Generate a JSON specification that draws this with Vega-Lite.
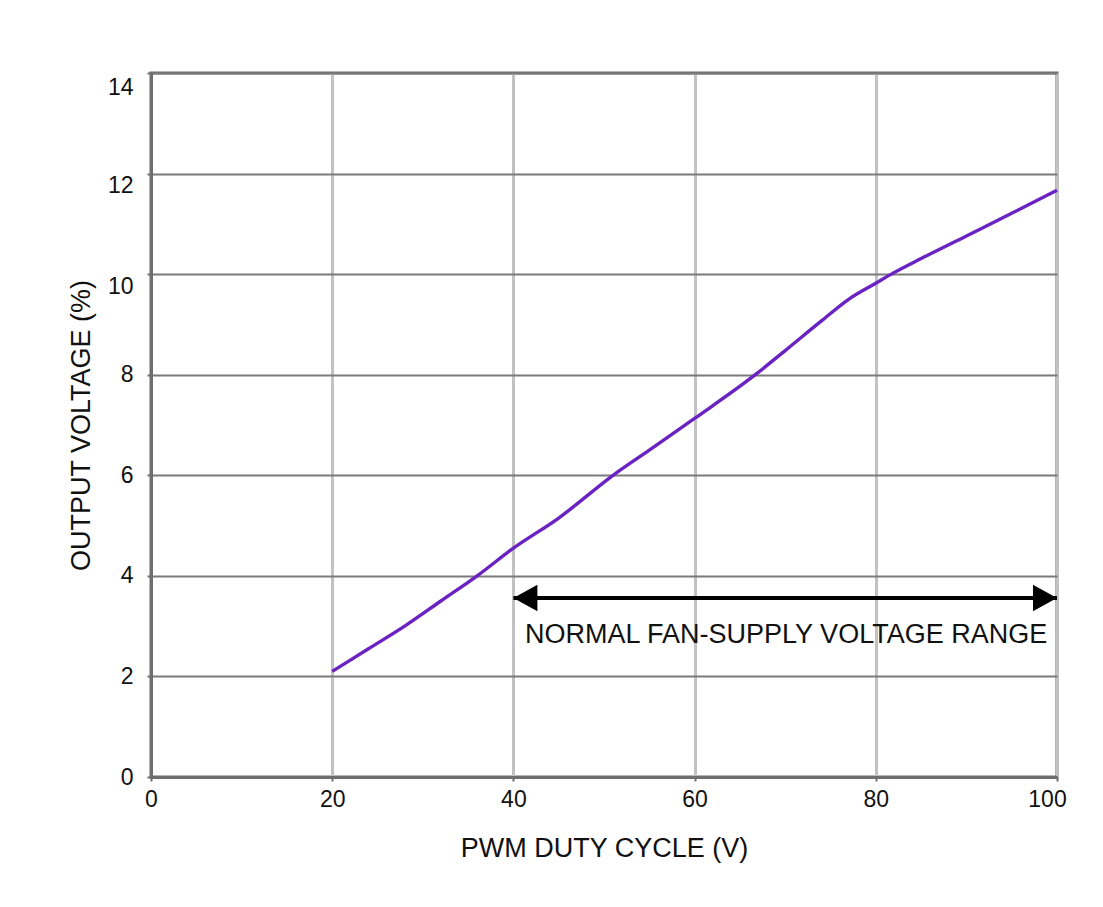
{
  "$schema": "https://vega.github.io/schema/vega-lite/v6.json",
  "width": 906,
  "height": 704,
  "autosize": {"type": "none"},
  "padding": {"left": 151, "top": 73, "right": 46, "bottom": 130},
  "background": "white",
  "config": {
    "font": "Liberation Sans",
    "view": {"stroke": "#6e6e6e", "strokeWidth": 3},
    "axis": {
      "labelFont": "Liberation Sans",
      "titleFont": "Liberation Sans",
      "labelFontSize": 23,
      "titleFontSize": 27,
      "titleFontWeight": "normal",
      "labelColor": "#111111",
      "titleColor": "#111111",
      "domainColor": "#6e6e6e",
      "domainWidth": 3,
      "tickColor": "#6e6e6e",
      "tickSize": 4,
      "tickWidth": 2,
      "labelFlush": false
    },
    "axisX": {"gridColor": "#c2c2c2", "gridWidth": 3, "gridOpacity": 1, "labelPadding": 7, "titlePadding": 24},
    "axisY": {"gridColor": "#7a7a7a", "gridWidth": 2, "gridOpacity": 1, "labelPadding": 14, "titlePadding": 12}
  },
  "datasets": {
    "curve": [
      {"x": 20, "y": 2.1},
      {"x": 24, "y": 2.55},
      {"x": 28, "y": 3.0},
      {"x": 32, "y": 3.5},
      {"x": 36, "y": 4.0},
      {"x": 40, "y": 4.55},
      {"x": 45, "y": 5.15},
      {"x": 51, "y": 6.0},
      {"x": 55, "y": 6.5},
      {"x": 60, "y": 7.13},
      {"x": 66.7, "y": 8.0},
      {"x": 70, "y": 8.48},
      {"x": 74, "y": 9.07},
      {"x": 77, "y": 9.5},
      {"x": 80, "y": 9.82},
      {"x": 82, "y": 10.03},
      {"x": 85, "y": 10.31},
      {"x": 90, "y": 10.76},
      {"x": 95, "y": 11.21},
      {"x": 100, "y": 11.67}
    ],
    "range": [{"x": 40, "x2": 100, "y": 3.56}],
    "heads": [
      {"x": 40, "y": 3.56, "dir": "left"},
      {"x": 100, "y": 3.56, "dir": "right"}
    ],
    "label": [{"x": 70.1, "y": 2.82, "text": "NORMAL FAN-SUPPLY VOLTAGE RANGE"}]
  },
  "layer": [
    {
      "data": {"name": "curve"},
      "mark": {"type": "line", "color": "#6a22c2", "strokeWidth": 3.4, "interpolate": "monotone"},
      "encoding": {
        "x": {
          "field": "x", "type": "quantitative",
          "scale": {"domain": [0, 100], "nice": false, "zero": false},
          "axis": {
            "values": [0, 20, 40, 60, 80, 100],
            "title": "PWM DUTY CYCLE (V)",
            "labelOffset": {"condition": {"test": "datum.value >= 100", "value": -10}, "value": 0}
          }
        },
        "y": {
          "field": "y", "type": "quantitative",
          "scale": {"domain": [0, 14], "nice": false},
          "axis": {
            "values": [0, 2, 4, 6, 8, 10, 12, 14],
            "title": "OUTPUT VOLTAGE (%)",
            "labelOffset": {
              "condition": [
                {"test": "datum.value >= 14", "value": 14},
                {"test": "datum.value >= 10", "value": 12}
              ],
              "value": 0
            }
          }
        }
      }
    },
    {
      "data": {"name": "range"},
      "mark": {"type": "rule", "color": "black", "strokeWidth": 4},
      "encoding": {
        "x": {"field": "x", "type": "quantitative", "title": "PWM DUTY CYCLE (V)"},
        "x2": {"field": "x2"},
        "y": {"field": "y", "type": "quantitative", "title": "OUTPUT VOLTAGE (%)"}
      }
    },
    {
      "data": {"name": "heads"},
      "mark": {"type": "point", "filled": true, "color": "black", "opacity": 1, "size": 2304, "strokeWidth": 0},
      "encoding": {
        "x": {"field": "x", "type": "quantitative", "title": "PWM DUTY CYCLE (V)"},
        "y": {"field": "y", "type": "quantitative", "title": "OUTPUT VOLTAGE (%)"},
        "shape": {
          "field": "dir", "type": "nominal",
          "scale": {"domain": ["left", "right"], "range": ["M0,0L1,-0.55L1,0.55Z", "M0,0L-1,-0.55L-1,0.55Z"]},
          "legend": null
        }
      }
    },
    {
      "data": {"name": "label"},
      "mark": {"type": "text", "fontSize": 27, "color": "#111111", "align": "center", "baseline": "middle", "font": "Liberation Sans"},
      "encoding": {
        "x": {"field": "x", "type": "quantitative", "title": "PWM DUTY CYCLE (V)"},
        "y": {"field": "y", "type": "quantitative", "title": "OUTPUT VOLTAGE (%)"},
        "text": {"field": "text"}
      }
    }
  ]
}
